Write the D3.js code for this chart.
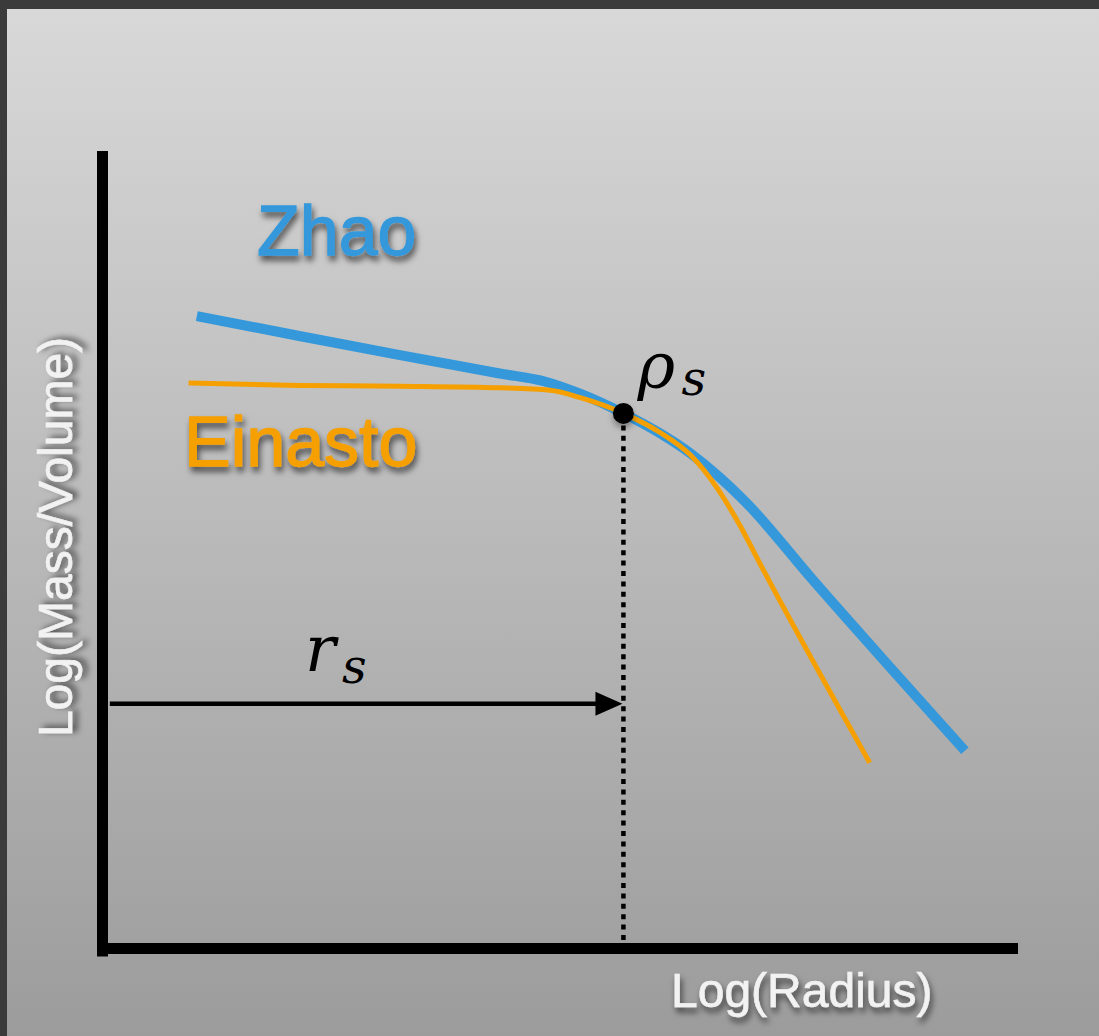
<!DOCTYPE html>
<html>
<head>
<meta charset="utf-8">
<script src="https://cdn.jsdelivr.net/npm/d3@7"></script>
<style>
  html, body { margin: 0; padding: 0; background: #3b3b3b; }
  svg { display: block; }
</style>
</head>
<body>
<svg id="chart" width="1099" height="1036"></svg>
<script>
// Density profiles in log-log space (arbitrary units, 0..10 on each axis)
const zhaoLogR   = [1.03, 2.15, 3.25, 4.34, 4.83, 5.21, 5.69, 6.09, 6.42, 6.74, 7.04, 7.76, 8.60, 9.42];
const zhaoLogRho = [7.93, 7.68, 7.44, 7.21, 7.11, 6.96, 6.71, 6.46, 6.21, 5.91, 5.58, 4.62, 3.53, 2.48];

const einastoLogR   = [0.94, 2.15, 3.25, 4.34, 4.89, 5.21, 5.69, 6.09, 6.42, 6.71, 6.96, 7.18, 8.38];
const einastoLogRho = [7.09, 7.06, 7.05, 7.03, 7.00, 6.91, 6.71, 6.47, 6.19, 5.78, 5.31, 4.83, 2.33];

// Scale radius and density
const scaleRadius = 5.69;
const scaleDensity = 6.71;
const arrowLevel = 3.07;   // height of the r_s arrow
const arrowStart = 0.08;

const seriesNames = ["Zhao", "Einasto"];
const axisTitles = ["Log(Radius)", "Log(Mass/Volume)"];

const W = 1099, H = 1036;
const svg = d3.select("#chart");
const defs = svg.append("defs");

const grad = defs.append("linearGradient")
  .attr("id", "bg").attr("x1", 0).attr("y1", 0).attr("x2", 0).attr("y2", 1);
grad.append("stop").attr("offset", "0%").attr("stop-color", "#d8d8d8");
grad.append("stop").attr("offset", "100%").attr("stop-color", "#9c9c9c");

const shadow = defs.append("filter").attr("id", "shadow")
  .attr("x", "-20%").attr("y", "-20%").attr("width", "140%").attr("height", "160%");
shadow.append("feDropShadow").attr("dx", 2).attr("dy", 5)
  .attr("stdDeviation", 3).attr("flood-color", "#000").attr("flood-opacity", 0.6);

const dotShadow = defs.append("filter").attr("id", "dotShadow")
  .attr("x", "-60%").attr("y", "-60%").attr("width", "220%").attr("height", "240%");
dotShadow.append("feDropShadow").attr("dx", 0).attr("dy", 4)
  .attr("stdDeviation", 3).attr("flood-color", "#000").attr("flood-opacity", 0.35);

// Frame and panel
svg.append("rect").attr("width", W).attr("height", H).attr("fill", "#3b3b3b");
svg.append("rect").attr("x", 7).attr("y", 9).attr("width", W - 7).attr("height", H - 9)
  .attr("fill", "url(#bg)");

const x = d3.scaleLinear().domain([0, 10]).range([102.5, 1018]);
const y = d3.scaleLinear().domain([0, 10]).range([948.5, 151]);

const colors = { Zhao: "#3498db", Einasto: "#f5a000" };

const line = d3.line()
  .x(d => x(d[0])).y(d => y(d[1]))
  .curve(d3.curveMonotoneX);

const zhao = d3.zip(zhaoLogR, zhaoLogRho);
const einasto = d3.zip(einastoLogR, einastoLogRho);

// Dotted guide from the scale point down to the radius axis
svg.append("line")
  .attr("x1", x(scaleRadius)).attr("x2", x(scaleRadius))
  .attr("y1", y(scaleDensity) + 12).attr("y2", y(0) - 6)
  .attr("stroke", "#000").attr("stroke-width", 4.5)
  .attr("stroke-dasharray", "5,5.4");

// Profiles
svg.append("path").datum(zhao)
  .attr("d", line).attr("fill", "none")
  .attr("stroke", colors.Zhao).attr("stroke-width", 10);
svg.append("path").datum(einasto)
  .attr("d", line).attr("fill", "none")
  .attr("stroke", colors.Einasto).attr("stroke-width", 5);

// Axes
svg.append("line")
  .attr("x1", x(0)).attr("x2", x(0))
  .attr("y1", y(10)).attr("y2", y(0) + 8)
  .attr("stroke", "#000").attr("stroke-width", 11);
svg.append("line")
  .attr("x1", x(0) - 5.5).attr("x2", x(10))
  .attr("y1", y(0)).attr("y2", y(0))
  .attr("stroke", "#000").attr("stroke-width", 11);

// Scale radius arrow
const tipX = x(scaleRadius) - 1, arrowY = y(arrowLevel);
svg.append("line")
  .attr("x1", x(arrowStart)).attr("x2", tipX - 20)
  .attr("y1", arrowY).attr("y2", arrowY)
  .attr("stroke", "#000").attr("stroke-width", 4.5);
svg.append("path")
  .attr("d", `M${tipX},${arrowY} L${tipX - 27},${arrowY - 12} L${tipX - 27},${arrowY + 12} Z`)
  .attr("fill", "#000");

// Scale point
svg.append("circle")
  .attr("cx", x(scaleRadius)).attr("cy", y(scaleDensity)).attr("r", 10.5)
  .attr("fill", "#000").attr("filter", "url(#dotShadow)");

// Series labels (slightly heavier than regular weight)
const sans = "'Liberation Sans', Arial, Helvetica, sans-serif";
function heavyLabel(txt, tx, ty, size, fill) {
  return svg.append("text").text(txt)
    .attr("x", tx).attr("y", ty)
    .attr("font-family", sans).attr("font-size", size)
    .attr("fill", fill).attr("stroke", fill).attr("stroke-width", 1.3)
    .attr("filter", "url(#shadow)");
}
heavyLabel(seriesNames[0], 257, 255, 70, colors.Zhao);
heavyLabel(seriesNames[1], 184, 466, 70, colors.Einasto);

// Axis titles
heavyLabel(axisTitles[0], 671, 1007, 48, "#f2f2f2").attr("stroke-width", 0.6);
heavyLabel(axisTitles[1], 0, 0, 48, "#f2f2f2")
  .attr("stroke-width", 0.6)
  .attr("transform", "translate(72,537) rotate(-90)")
  .attr("text-anchor", "middle");

// Math annotations
const serif = "'DejaVu Serif', 'Liberation Serif', serif";
function mathLabel(main, sub, mx, my, sx, sy) {
  svg.append("text").text(main).attr("x", mx).attr("y", my)
    .attr("font-family", serif).attr("font-style", "italic")
    .attr("font-size", 64).attr("fill", "#000");
  svg.append("text").text(sub).attr("x", sx).attr("y", sy)
    .attr("font-family", serif).attr("font-style", "italic")
    .attr("font-size", 48).attr("fill", "#000");
}
mathLabel("ρ", "s", x(scaleRadius) + 14, y(scaleDensity) - 25, x(scaleRadius) + 58, y(scaleDensity) - 18);
mathLabel("r", "s", 305, arrowY - 33, 342, arrowY - 21);
</script>
</body>
</html>
